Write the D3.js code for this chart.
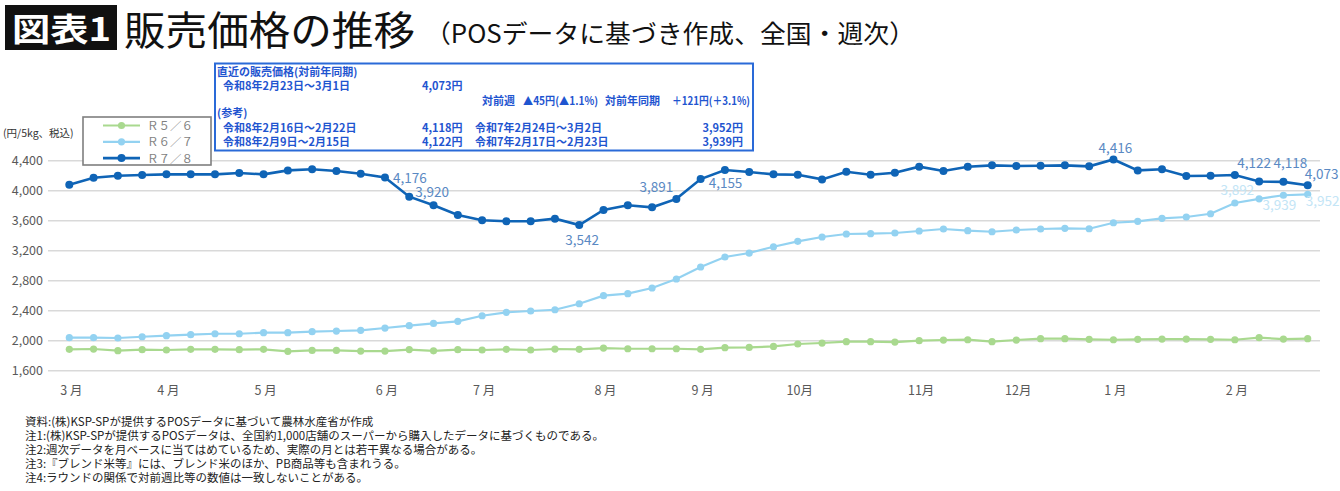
<!DOCTYPE html>
<html>
<head>
<meta charset="utf-8">
<script src="https://cdn.jsdelivr.net/npm/d3@7"></script>
<style>
  body { margin: 0; background: #fff; }
  text { font-family: "Noto Sans CJK JP", "Noto Sans", sans-serif; }
</style>
</head>
<body>
<script>
// weekly points, Mar -> end of Feb
const weeks = d3.range(52);

const monthLabels = ["3 月", "4 月", "5 月", "6 月", "7 月", "8 月", "9 月", "10月", "11月", "12月", "1 月", "2 月"];
const monthWeek = [0, 4, 8, 13, 17, 22, 26, 30, 35, 39, 43, 48];

const yTicks = [1600, 2000, 2400, 2800, 3200, 3600, 4000, 4400];

const seriesNames = ["Ｒ５／６", "Ｒ６／７", "Ｒ７／８"];

const r56 = [1885, 1889, 1867, 1880, 1876, 1885, 1885, 1880, 1885, 1858, 1871, 1871, 1862,
  1862, 1882, 1865, 1880, 1876, 1885, 1876, 1889, 1885, 1902, 1893, 1893, 1893,
  1885, 1907, 1911, 1924, 1956, 1969, 1987, 1987, 1982, 2000, 2009, 2013, 1987,
  2009, 2027, 2027, 2018, 2013, 2018, 2022, 2022, 2018, 2013, 2040, 2022, 2027];

const r67 = [2040, 2040, 2036, 2053, 2067, 2080, 2093, 2093, 2107, 2107, 2120, 2129, 2138,
  2169, 2200, 2231, 2258, 2333, 2378, 2396, 2413, 2493, 2600, 2627, 2703, 2823,
  2983, 3116, 3169, 3253, 3325, 3383, 3423, 3427, 3436, 3463, 3489, 3467, 3453,
  3476, 3489, 3498, 3493, 3573, 3592, 3632, 3649, 3693, 3836, 3892, 3939, 3952];

const r78 = [4080, 4173, 4200, 4209, 4218, 4218, 4218, 4236, 4218, 4271, 4285, 4263, 4227,
  4176, 3920, 3805, 3676, 3605, 3592, 3592, 3627, 3542, 3743, 3805, 3778, 3891,
  4155, 4276, 4249, 4218, 4213, 4151, 4253, 4213, 4240, 4320, 4263, 4320, 4338,
  4329, 4333, 4338, 4325, 4416, 4271, 4285, 4196, 4200, 4209, 4122, 4118, 4073];

const footNotes = [
  "資料:(株)KSP-SPが提供するPOSデータに基づいて農林水産省が作成",
  "注1:(株)KSP-SPが提供するPOSデータは、全国約1,000店舗のスーパーから購入したデータに基づくものである。",
  "注2:週次データを月ベースに当てはめているため、実際の月とは若干異なる場合がある。",
  "注3:『ブレンド米等』には、ブレンド米のほか、PB商品等も含まれうる。",
  "注4:ラウンドの関係で対前週比等の数値は一致しないことがある。"
];

const W = 1340, H = 491;
const series = [r56, r67, r78];
const colors = ["#a9d98f", "#93d2f1", "#0f64b6"];
const labelColors = ["#a9d98f", "#c3e5f6", "#5a89c3"];

// which points get a value label, and where it sits relative to the marker
const labelSpots = [
  { s: 2, i: 13, dx: 8, dy: 5, a: "start" },
  { s: 2, i: 14, dx: 6, dy: 0, a: "start" },
  { s: 2, i: 21, dx: 3, dy: 20, a: "middle" },
  { s: 2, i: 25, dx: -3, dy: -7, a: "end" },
  { s: 2, i: 26, dx: 8, dy: 9, a: "start" },
  { s: 2, i: 43, dx: 2, dy: -7, a: "middle" },
  { s: 2, i: 49, dx: -5, dy: -14, a: "middle" },
  { s: 2, i: 50, dx: 7, dy: -14, a: "middle" },
  { s: 2, i: 51, dx: 14, dy: -6, a: "middle" },
  { s: 1, i: 49, dx: -5, dy: -4, a: "end" },
  { s: 1, i: 50, dx: -4, dy: 15, a: "middle" },
  { s: 1, i: 51, dx: -2, dy: 12, a: "start" }
];

const svg = d3.select("body").append("svg")
  .attr("width", W)
  .attr("height", H);

svg.append("rect").attr("width", W).attr("height", H).attr("fill", "#fff");

// title
svg.append("rect")
  .attr("x", 5).attr("y", 5).attr("width", 112).attr("height", 45)
  .attr("fill", "#111");
svg.append("text")
  .attr("x", 12).attr("y", 41)
  .attr("fill", "#fff")
  .attr("font-size", 32).attr("font-weight", 700)
  .attr("textLength", 99).attr("lengthAdjust", "spacingAndGlyphs")
  .text("図表1");
svg.append("text")
  .attr("x", 124).attr("y", 45)
  .attr("fill", "#111")
  .attr("font-size", 40).attr("font-weight", 400)
  .attr("textLength", 291).attr("lengthAdjust", "spacingAndGlyphs")
  .text("販売価格の推移");
svg.append("text")
  .attr("x", 425).attr("y", 43)
  .attr("fill", "#111")
  .attr("font-size", 25).attr("font-weight", 400)
  .attr("textLength", 490).attr("lengthAdjust", "spacingAndGlyphs")
  .text("（POSデータに基づき作成、全国・週次）");

// scales
const x = d3.scalePoint().domain(weeks).range([69.3, 1307.7]);
const y = d3.scaleLinear().domain([1600, 4400]).range([370.7, 160.7]);

// grid + y labels
svg.append("g")
  .selectAll("line")
  .data(yTicks)
  .join("line")
  .attr("x1", 48).attr("x2", 1320)
  .attr("y1", d => y(d)).attr("y2", d => y(d))
  .attr("stroke", "#d9d9d9")
  .attr("stroke-width", 1.5);

svg.append("g")
  .selectAll("text")
  .data(yTicks)
  .join("text")
  .attr("x", 43)
  .attr("y", d => y(d) + 4.5)
  .attr("text-anchor", "end")
  .attr("font-size", 12.5)
  .attr("fill", "#595959")
  .text(d => d3.format(",")(d));

// month labels
svg.append("g")
  .selectAll("text")
  .data(monthLabels)
  .join("text")
  .attr("x", (d, k) => x(monthWeek[k]) + 2)
  .attr("y", 395)
  .attr("text-anchor", "middle")
  .attr("font-size", 12.5)
  .attr("fill", "#595959")
  .text(d => d);

// lines
let line = d3.line()
  .x((d, i) => x(weeks[i]))
  .y(d => y(d));

series.forEach((vals, s) => {
  let g = svg.append("g");
  g.append("path")
    .datum(vals)
    .attr("fill", "none")
    .attr("stroke", colors[s])
    .attr("stroke-width", s == 2 ? 2.6 : 2.2)
    .attr("d", line);
  g.selectAll("circle")
    .data(vals)
    .join("circle")
    .attr("cx", (d, i) => x(weeks[i]))
    .attr("cy", d => y(d))
    .attr("r", s == 2 ? 4 : 3.6)
    .attr("fill", colors[s]);
});

// value labels
svg.append("g")
  .selectAll("text")
  .data(labelSpots)
  .join("text")
  .attr("x", d => x(weeks[d.i]) + d.dx)
  .attr("y", d => y(series[d.s][d.i]) + d.dy)
  .attr("text-anchor", d => d.a)
  .attr("font-size", 13.5)
  .attr("fill", d => labelColors[d.s])
  .text(d => d3.format(",")(series[d.s][d.i]));

// unit
svg.append("text")
  .attr("x", 3).attr("y", 137)
  .attr("font-size", 10.5)
  .attr("fill", "#333")
  .text("(円/5kg、税込)");

// legend
let legend = svg.append("g");
legend.append("rect")
  .attr("x", 83).attr("y", 117).attr("width", 128).attr("height", 48)
  .attr("fill", "#fff")
  .attr("stroke", "#7f7f7f")
  .attr("stroke-width", 1.6);
seriesNames.forEach((name, s) => {
  let ly = 125.5 + s * 16.3;
  legend.append("line")
    .attr("x1", 103).attr("x2", 140).attr("y1", ly).attr("y2", ly)
    .attr("stroke", colors[s]).attr("stroke-width", s == 2 ? 2.6 : 2.2);
  legend.append("circle")
    .attr("cx", 121.5).attr("cy", ly).attr("r", s == 2 ? 4 : 3.6)
    .attr("fill", colors[s]);
  legend.append("text")
    .attr("x", 147).attr("y", ly + 4.5)
    .attr("font-size", 11)
    .attr("fill", "#7f7f7f")
    .attr("textLength", 46).attr("lengthAdjust", "spacingAndGlyphs")
    .text(name);
});

// info box
let info = svg.append("g")
  .attr("fill", "#1f55d0")
  .attr("font-size", 11)
  .attr("font-weight", 700);
info.append("rect")
  .attr("x", 215).attr("y", 63.5).attr("width", 538).attr("height", 87)
  .attr("fill", "#fff")
  .attr("stroke", "#2a6ad8")
  .attr("stroke-width", 2);
// [x, y, anchor, text, width]
const infoText = [
  [217, 75.5, "start", "直近の販売価格(対前年同期)"],
  [223, 90, "start", "令和8年2月23日～3月1日"],
  [422, 90, "start", "4,073円"],
  [482, 104.5, "start", "対前週", 33],
  [523, 104.5, "start", "▲45円(▲1.1%)", 75],
  [605, 104.5, "start", "対前年同期", 55],
  [672, 104.5, "start", "＋121円(＋3.1%)", 78],
  [217, 117, "start", "(参考)"],
  [223, 132, "start", "令和8年2月16日～2月22日"],
  [422, 132, "start", "4,118円"],
  [475, 132, "start", "令和7年2月24日～3月2日"],
  [743, 132, "end", "3,952円"],
  [223, 146, "start", "令和8年2月9日～2月15日"],
  [422, 146, "start", "4,122円"],
  [475, 146, "start", "令和7年2月17日～2月23日"],
  [743, 146, "end", "3,939円"]
];
info.selectAll("text")
  .data(infoText)
  .join("text")
  .attr("x", d => d[0])
  .attr("y", d => d[1])
  .attr("text-anchor", d => d[2])
  .attr("textLength", d => d[4] || null)
  .attr("lengthAdjust", d => d[4] ? "spacingAndGlyphs" : null)
  .text(d => d[3]);

// notes
svg.append("g")
  .selectAll("text")
  .data(footNotes)
  .join("text")
  .attr("x", 25)
  .attr("y", (d, k) => 426 + k * 13.9)
  .attr("font-size", 11.5)
  .attr("fill", "#222")
  .text(d => d);
</script>
</body>
</html>
